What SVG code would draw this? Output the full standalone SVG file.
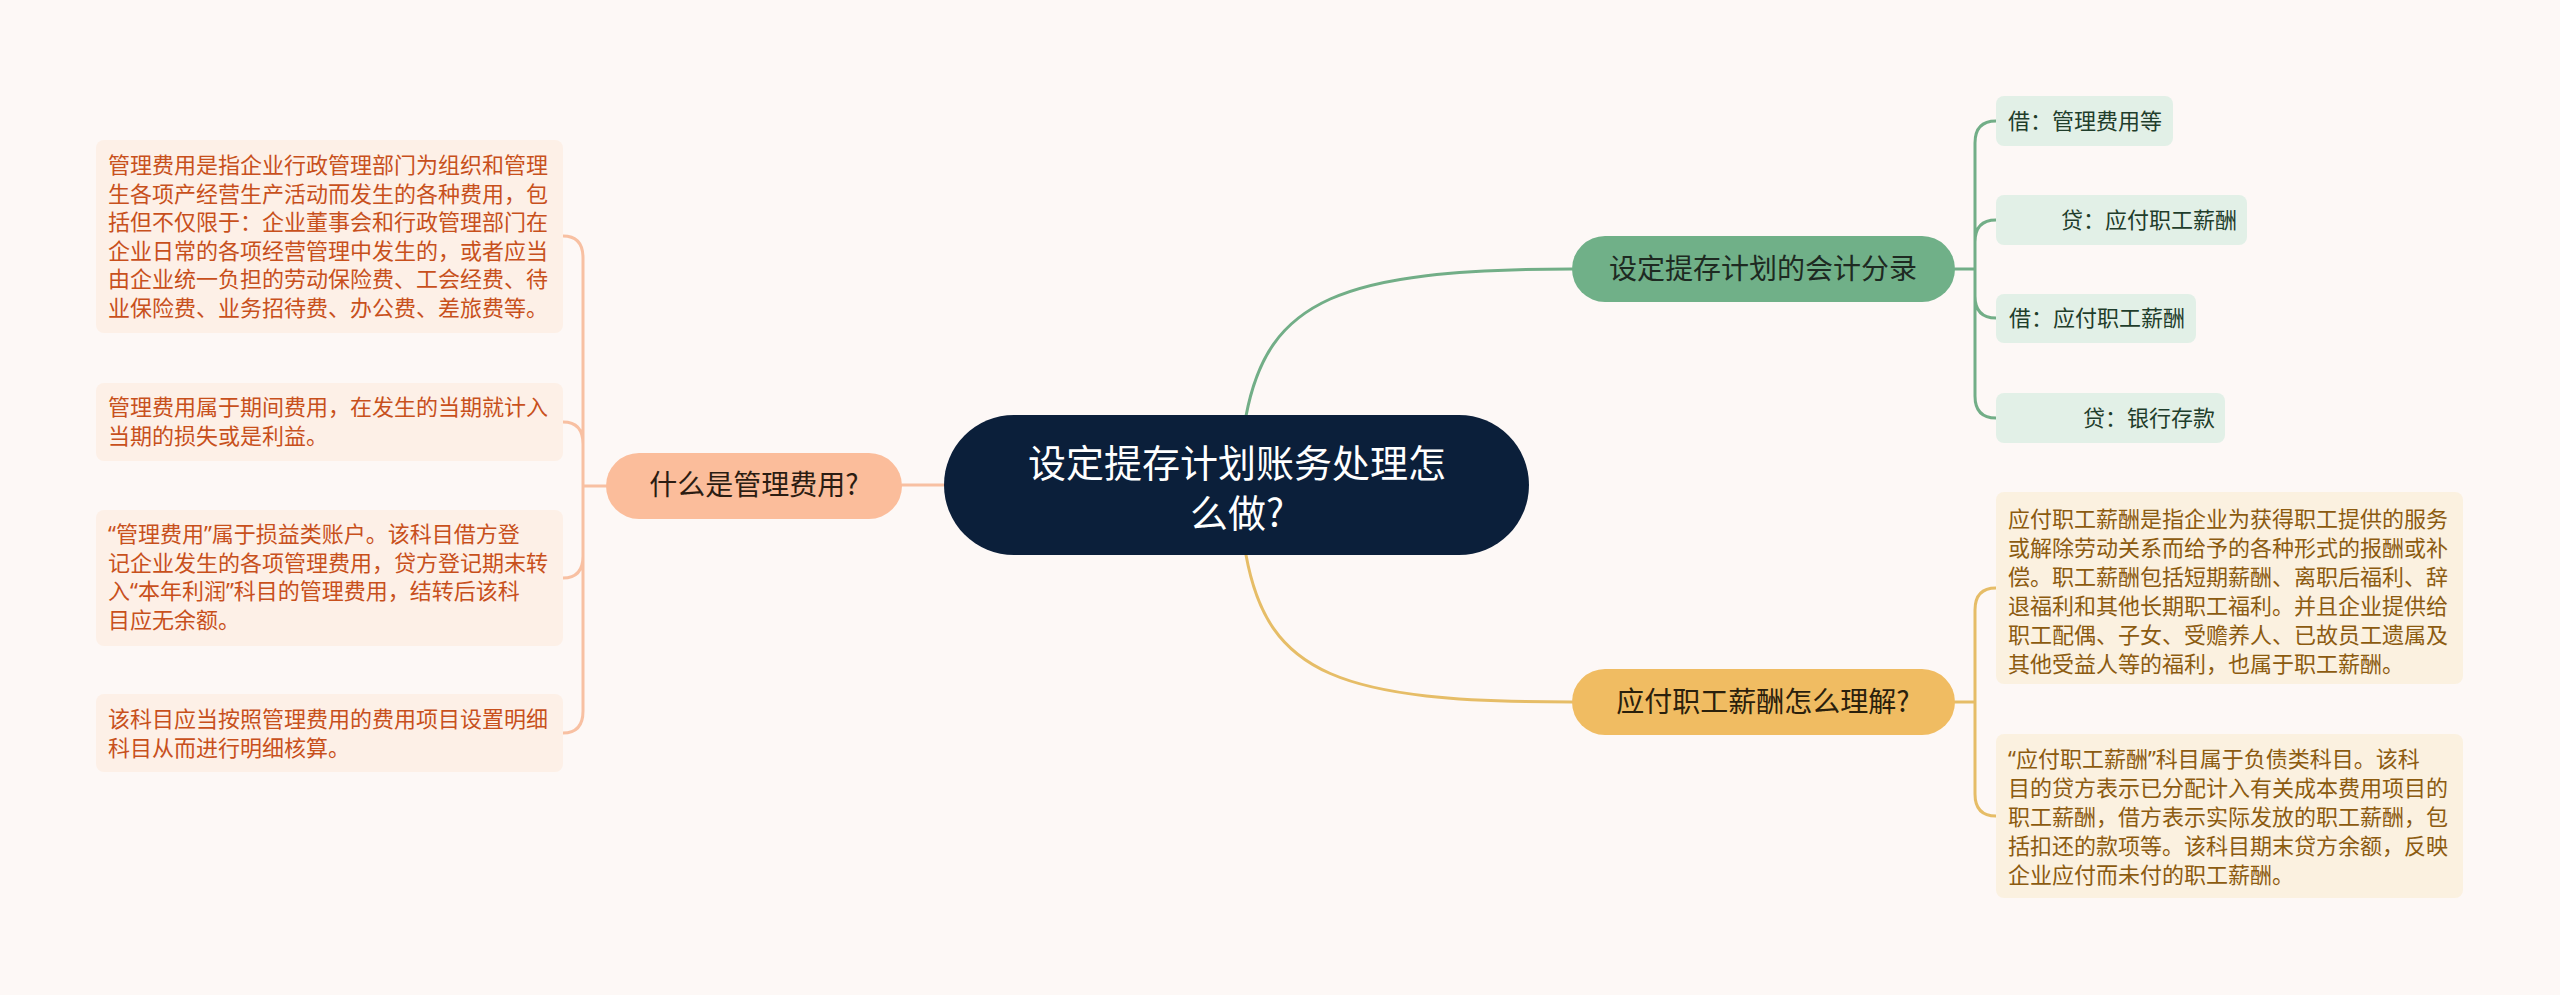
<svg xmlns="http://www.w3.org/2000/svg" width="2560" height="995" viewBox="0 0 2560 995">
<style>
text{font-family:"Noto Sans CJK SC","Noto Sans",sans-serif;}
.q{font-family:"Noto Sans",sans-serif}
.c{fill:none;stroke-width:3;stroke-linecap:round}
.g{stroke:#72ae87}.o{stroke:#f8c0a2}.y{stroke:#e6bd67}
.lf{font-size:22px}
.gl{fill:#e2f0e7}.glt{fill:#1f3d2b}
.ol{fill:#fdf0e7}.olt{fill:#c8501c}
.yl{fill:#fbf1e0}.ylt{fill:#8c5b10}
</style>
<rect width="2560" height="995" fill="#fdf8f6"/>
<g id="connectors">
<path class="c g" d="M1246,416 C1268,300 1340,269 1572,269"/>
<path class="c y" d="M1246,555 C1268,675 1340,702 1572,702"/>
<path class="c o" d="M902,485 H944"/>
<path class="c g" d="M1955,269 H1975 M1975,269 V143 Q1975,121 1996,121 M1975,269 V242 Q1975,220 1996,220 M1975,269 V296 Q1975,318 1996,318 M1975,269 V396 Q1975,418 1996,418"/>
<path class="c o" d="M606,486 H583 M583,486 V258 Q583,236 563,236 M583,486 V444 Q583,422 563,422 M583,486 V556 Q583,578 563,578 M583,486 V711 Q583,733 563,733"/>
<path class="c y" d="M1955,702 H1975 M1975,702 V610 Q1975,588 1996,588 M1975,702 V794 Q1975,816 1996,816"/>
</g>
<g id="root">
<rect x="944" y="415" width="585" height="140" rx="70" fill="#0b1f3a"/>
<text x="1237" y="477" font-size="38" fill="#ffffff" text-anchor="middle">设定提存计划账务处理怎</text>
<text x="1237" y="527" font-size="38" fill="#ffffff" text-anchor="middle">么做?</text>
</g>
<g id="n-green">
<rect x="1572" y="236" width="383" height="66" rx="33" fill="#70b088"/>
<text x="1763" y="279" font-size="28" fill="#1e2a22" text-anchor="middle">设定提存计划的会计分录</text>
</g>
<g id="g1"><rect class="gl" x="1996" y="96" width="177" height="50" rx="8"/><text class="lf glt" x="2162" y="129" text-anchor="end">借：管理费用等</text></g>
<g id="g2"><rect class="gl" x="1996" y="195" width="251" height="50" rx="8"/><text class="lf glt" x="2237" y="228" text-anchor="end">贷：应付职工薪酬</text></g>
<g id="g3"><rect class="gl" x="1996" y="294" width="200" height="49" rx="8"/><text class="lf glt" x="2185" y="326" text-anchor="end">借：应付职工薪酬</text></g>
<g id="g4"><rect class="gl" x="1996" y="393" width="229" height="50" rx="8"/><text class="lf glt" x="2215" y="426" text-anchor="end">贷：银行存款</text></g>
<g id="n-yellow">
<rect x="1572" y="669" width="383" height="66" rx="33" fill="#f0bc62"/>
<text x="1763" y="712" font-size="28" fill="#2a200c" text-anchor="middle">应付职工薪酬怎么理解?</text>
</g>
<g id="y1"><rect class="yl" x="1996" y="492" width="467" height="192" rx="8"/>
<text class="lf ylt" x="2008">
<tspan x="2008" y="527">应付职工薪酬是指企业为获得职工提供的服务</tspan>
<tspan x="2008" y="556">或解除劳动关系而给予的各种形式的报酬或补</tspan>
<tspan x="2008" y="585">偿。职工薪酬包括短期薪酬、离职后福利、辞</tspan>
<tspan x="2008" y="614">退福利和其他长期职工福利。并且企业提供给</tspan>
<tspan x="2008" y="643">职工配偶、子女、受赡养人、已故员工遗属及</tspan>
<tspan x="2008" y="672">其他受益人等的福利，也属于职工薪酬。</tspan>
</text></g>
<g id="y2"><rect class="yl" x="1996" y="734" width="467" height="164" rx="8"/>
<text class="lf ylt">
<tspan x="2008" y="767"><tspan class="q">“</tspan>应付职工薪酬<tspan class="q">”</tspan>科目属于负债类科目。该科</tspan>
<tspan x="2008" y="796">目的贷方表示已分配计入有关成本费用项目的</tspan>
<tspan x="2008" y="825">职工薪酬，借方表示实际发放的职工薪酬，包</tspan>
<tspan x="2008" y="854">括扣还的款项等。该科目期末贷方余额，反映</tspan>
<tspan x="2008" y="883">企业应付而未付的职工薪酬。</tspan>
</text></g>
<g id="n-orange">
<rect x="606" y="453" width="296" height="66" rx="33" fill="#fbbd9b"/>
<text x="754" y="495" font-size="28" fill="#2b1c12" text-anchor="middle">什么是管理费用?</text>
</g>
<g id="o1"><rect class="ol" x="96" y="140" width="467" height="193" rx="8"/>
<text class="lf olt">
<tspan x="108" y="173">管理费用是指企业行政管理部门为组织和管理</tspan>
<tspan x="108" y="201.5">生各项产经营生产活动而发生的各种费用，包</tspan>
<tspan x="108" y="230">括但不仅限于：企业董事会和行政管理部门在</tspan>
<tspan x="108" y="258.5">企业日常的各项经营管理中发生的，或者应当</tspan>
<tspan x="108" y="287">由企业统一负担的劳动保险费、工会经费、待</tspan>
<tspan x="108" y="315.5">业保险费、业务招待费、办公费、差旅费等。</tspan>
</text></g>
<g id="o2"><rect class="ol" x="96" y="383" width="467" height="78" rx="8"/>
<text class="lf olt">
<tspan x="108" y="415">管理费用属于期间费用，在发生的当期就计入</tspan>
<tspan x="108" y="443.5">当期的损失或是利益。</tspan>
</text></g>
<g id="o3"><rect class="ol" x="96" y="510" width="467" height="136" rx="8"/>
<text class="lf olt">
<tspan x="108" y="542"><tspan class="q">“</tspan>管理费用<tspan class="q">”</tspan>属于损益类账户。该科目借方登</tspan>
<tspan x="108" y="570.5">记企业发生的各项管理费用，贷方登记期末转</tspan>
<tspan x="108" y="599">入<tspan class="q">“</tspan>本年利润<tspan class="q">”</tspan>科目的管理费用，结转后该科</tspan>
<tspan x="108" y="627.5">目应无余额。</tspan>
</text></g>
<g id="o4"><rect class="ol" x="96" y="694" width="467" height="78" rx="8"/>
<text class="lf olt">
<tspan x="108" y="727">该科目应当按照管理费用的费用项目设置明细</tspan>
<tspan x="108" y="755.5">科目从而进行明细核算。</tspan>
</text></g>
</svg>
